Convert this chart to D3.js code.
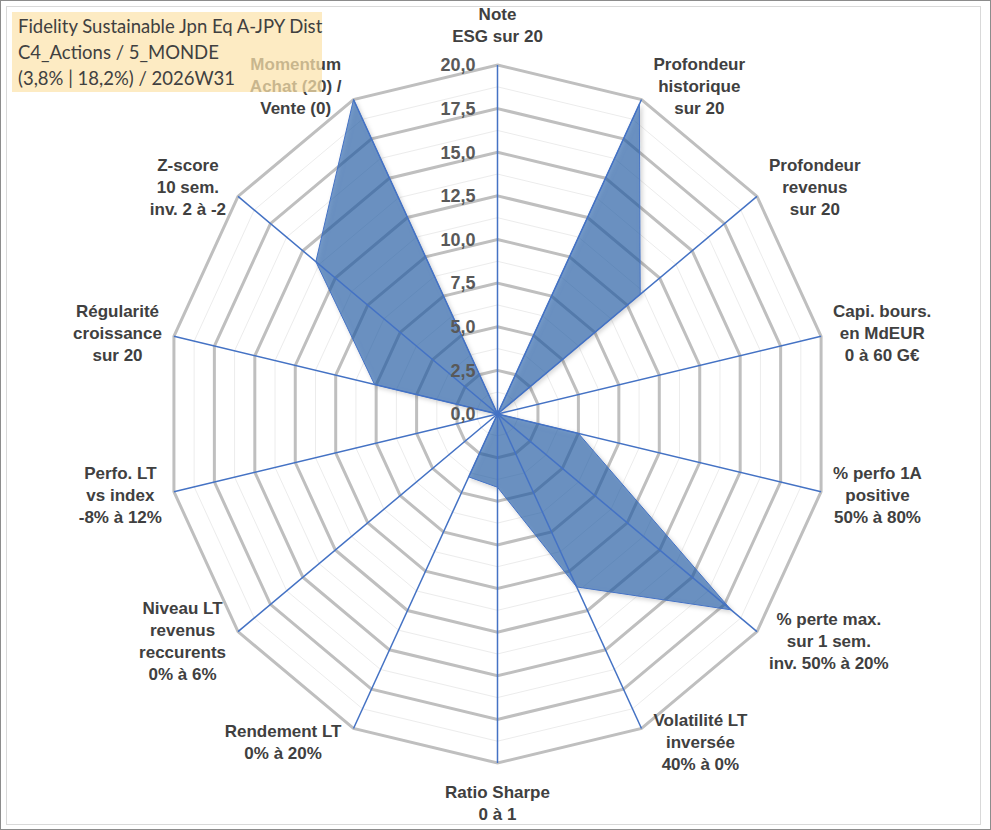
<!DOCTYPE html>
<html>
<head>
<meta charset="utf-8">
<script src="https://cdn.jsdelivr.net/npm/d3@7"></script>
<style>
  body { margin: 0; background: #fff; }
  svg { display: block; }
</style>
</head>
<body>
<svg id="chart" width="991" height="830"></svg>
<script>
// axes of the radar, clockwise from the top
const axisLabels = [
  "Note\nESG sur 20",
  "Profondeur\nhistorique\nsur 20",
  "Profondeur\nrevenus\nsur 20",
  "Capi. bours.\nen MdEUR\n0 à 60 G€",
  "% perfo 1A\npositive\n50% à 80%",
  "% perte max.\nsur 1 sem.\ninv. 50% à 20%",
  "Volatilité LT\ninversée\n40% à 0%",
  "Ratio Sharpe\n0 à 1",
  "Rendement LT\n0% à 20%",
  "Niveau LT\nrevenus\nreccurents\n0% à 6%",
  "Perfo. LT\nvs index\n-8% à 12%",
  "Régularité\ncroissance\nsur 20",
  "Z-score\n10 sem.\ninv. 2 à -2",
  "Momentum\nAchat (20) /\nVente (0)"
];
const scores = [0, 19.7, 11, 0, 5, 18, 11, 4.2, 4, 0, 0, 7.6, 14, 20];
const tickValues = [0, 2.5, 5, 7.5, 10, 12.5, 15, 17.5, 20];
const minorValues = [1.25, 3.75, 6.25, 8.75, 11.25, 13.75, 16.25, 18.75];
const titleLines = [
  "Fidelity Sustainable Jpn Eq A-JPY Dist",
  "C4_Actions / 5_MONDE",
  "(3,8% | 18,2%) / 2026W31"
];

const W = 991, H = 830;
const cx = 497.5, cy = 414, R = 349, sx = 0.951;
const labelFont = "'Liberation Sans', Arial, sans-serif";

const svg = d3.select("#chart");
const n = axisLabels.length;
const step = 2 * Math.PI / n;
const r = d3.scaleLinear().domain([0, 20]).range([0, R]);

// frame
svg.append("rect").attr("x", 0.5).attr("y", 0.5).attr("width", W - 1).attr("height", H - 1)
  .attr("fill", "#fff").attr("stroke", "#8c8c8c");
svg.append("rect").attr("x", 6.5).attr("y", 6.5).attr("width", 974).attr("height", 818)
  .attr("fill", "none").attr("stroke", "#d9d9d9");

const defs = svg.append("defs");
defs.append("filter").attr("id", "shadow").attr("x", "-10%").attr("y", "-10%")
  .attr("width", "130%").attr("height", "130%")
  .append("feDropShadow").attr("dx", 2).attr("dy", 2).attr("stdDeviation", 2)
  .attr("flood-color", "#000").attr("flood-opacity", 0.25);

// plot group, slightly narrower than tall like the original
const g = svg.append("g").attr("transform", `translate(${cx},${cy}) scale(${sx},1)`);

const ring = lv => d3.lineRadial()
  .angle((d, i) => i * step)
  .radius(() => r(lv))
  .curve(d3.curveLinearClosed)(axisLabels);

g.selectAll("path.minor").data(minorValues).join("path")
  .attr("class", "minor")
  .attr("d", ring)
  .attr("fill", "none").attr("stroke", "#ececec").attr("stroke-width", 1)
  .attr("vector-effect", "non-scaling-stroke");

g.selectAll("path.major").data(tickValues.filter(v => v > 0)).join("path")
  .attr("class", "major")
  .attr("d", ring)
  .attr("fill", "none").attr("stroke", "#bfbfbf").attr("stroke-width", 3)
  .attr("stroke-linejoin", "miter")
  .attr("vector-effect", "non-scaling-stroke");

// data area
const area = d3.lineRadial()
  .angle((d, i) => i * step)
  .radius(d => r(d))
  .curve(d3.curveLinearClosed);

g.append("path").datum(scores)
  .attr("d", area)
  .attr("fill", "#1f5aa6").attr("fill-opacity", 0.6)
  .attr("stroke", "#4472c4").attr("stroke-width", 1)
  .attr("vector-effect", "non-scaling-stroke")
  .attr("filter", "url(#shadow)");

// spokes
g.selectAll("line.spoke").data(axisLabels).join("line")
  .attr("class", "spoke")
  .attr("x1", 0).attr("y1", 0)
  .attr("x2", (d, i) => r(20) * Math.sin(i * step))
  .attr("y2", (d, i) => -r(20) * Math.cos(i * step))
  .attr("stroke", "#4472c4").attr("stroke-width", 1.5)
  .attr("vector-effect", "non-scaling-stroke");

// radial tick labels
const fmt = v => d3.format(".1f")(v).replace(".", ",");
svg.append("g").selectAll("text").data(tickValues).join("text")
  .attr("x", cx - 22)
  .attr("y", d => cy - r(d))
  .attr("dy", "0.35em")
  .attr("text-anchor", "end")
  .attr("font-family", labelFont).attr("font-weight", "bold").attr("font-size", 18)
  .attr("fill", "#595959")
  .text(fmt);

// axis labels
const lh = 22;
const lab = svg.append("g");
axisLabels.forEach((label, i) => {
  const a = i * step;
  const s = Math.sin(a), c = Math.cos(a);
  const vx = cx + sx * r(20) * s, vy = cy - r(20) * c;
  const lines = label.split("\n");
  const t = lab.append("text")
    .attr("text-anchor", "middle")
    .attr("font-family", labelFont).attr("font-weight", "bold").attr("font-size", 17)
    .attr("fill", "#404040");
  lines.forEach((ln, k) => t.append("tspan").attr("x", 0).attr("y", k * lh).text(ln));
  const w = d3.max(t.selectAll("tspan").nodes(), nd => nd.getComputedTextLength());
  const h = lines.length * lh;
  let bx, by;
  if (Math.abs(s) < 0.01) {
    bx = vx;
    by = vy - Math.sign(c) * (h / 2 + 18);
  } else {
    bx = vx + Math.sign(s) * (w / 2 + 12);
    by = vy - c * 15;
  }
  t.attr("transform", `translate(${bx},${by - h / 2 + lh / 2})`);
  t.selectAll("tspan").attr("dy", "0.35em");
});

// title box
svg.append("rect").attr("x", 12).attr("y", 12).attr("width", 310).attr("height", 80)
  .attr("fill", "#fce3ac").attr("fill-opacity", 0.72);
svg.append("g").selectAll("text").data(titleLines).join("text")
  .attr("x", 18)
  .attr("y", (d, i) => 27 + i * 26)
  .attr("dy", "0.35em")
  .attr("font-family", "Lato, 'Open Sans', sans-serif").attr("font-size", 18.5)
  .attr("fill", "#404040")
  .text(d => d);
</script>
</body>
</html>
